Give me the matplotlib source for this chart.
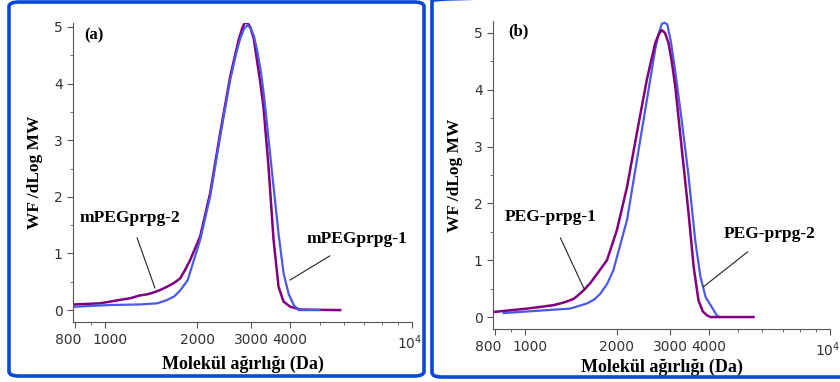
import matplotlib
matplotlib.use('Agg')
import matplotlib.pyplot as plt
import matplotlib.transforms as mtransforms
from matplotlib.patches import FancyBboxPatch

# panel (a)
mw_a2 = [798, 880, 963, 1040, 1119, 1210, 1300, 1380, 1455, 1520, 1589, 1680,
         1757, 1820, 1893, 2042, 2200, 2372, 2557, 2724, 2800, 2863, 2920, 2973,
         3050, 3126, 3200, 3283, 3410, 3541, 3676, 3817, 4011, 4325, 5837]
wf_a2 = [0.10, 0.11, 0.12, 0.15, 0.18, 0.21, 0.26, 0.28, 0.32, 0.36, 0.41, 0.48,
         0.56, 0.70, 0.88, 1.30, 2.06, 3.12, 4.12, 4.77, 4.98, 5.09, 5.06, 5.00,
         4.80, 4.42, 4.05, 3.59, 2.53, 1.24, 0.41, 0.15, 0.06, 0.01, 0.0]
mw_a1 = [798, 1040, 1300, 1480, 1580, 1680, 1760, 1860, 2042, 2200, 2372, 2557,
         2680, 2760, 2840, 2910, 2980, 3060, 3140, 3226, 3310, 3395, 3540, 3676,
         3817, 3963, 4118, 4278, 4999]
wf_a1 = [0.06, 0.09, 0.10, 0.12, 0.17, 0.24, 0.35, 0.53, 1.24, 2.00, 3.06, 4.06,
         4.55, 4.80, 4.97, 5.03, 4.98, 4.83, 4.55, 4.18, 3.70, 3.12, 2.18, 1.35,
         0.65, 0.29, 0.09, 0.0, 0.0]

# panel (b)
mw_b1 = [793, 900, 1020, 1130, 1244, 1350, 1446, 1500, 1559, 1640, 1726, 1859,
         2004, 2163, 2330, 2512, 2675, 2750, 2812, 2880, 2959, 3030, 3112, 3272,
         3442, 3576, 3709, 3830, 3954, 4060, 5614]
wf_b1 = [0.09, 0.12, 0.15, 0.18, 0.21, 0.26, 0.32, 0.39, 0.47, 0.60, 0.76, 1.00,
         1.53, 2.29, 3.24, 4.18, 4.82, 4.98, 5.05, 5.00, 4.82, 4.50, 4.06, 2.94,
         1.82, 0.88, 0.29, 0.10, 0.03, 0.0, 0.0]
mw_b2 = [853, 1098, 1410, 1600, 1690, 1768, 1860, 1950, 2163, 2330, 2512, 2675,
         2750, 2812, 2870, 2930, 3010, 3096, 3255, 3432, 3618, 3763, 3914, 4127,
         4257, 4350]
wf_b2 = [0.07, 0.11, 0.15, 0.24, 0.31, 0.41, 0.58, 0.82, 1.71, 2.76, 3.82, 4.71,
         5.00, 5.16, 5.18, 5.15, 4.85, 4.41, 3.53, 2.53, 1.35, 0.71, 0.35, 0.15,
         0.03, 0.0]

xticks = [800, 1000, 2000, 3000, 4000, 10000]
xlabels = ['800', '1000', '2000', '3000', '4000', '10$^4$']

purple = '#800080'
blue = '#4a5ae6'
serif = 'Liberation Serif'

fig = plt.figure(figsize=(8.4, 3.82), dpi=100)

# blue frames
for x0, y0, w, h in [(9, 6, 415, 374), (432, 5, 420, 381)]:
    box = FancyBboxPatch((x0 / 840, y0 / 382), w / 840, h / 382,
                         boxstyle='round,pad=0,rounding_size=0.012',
                         transform=fig.transFigure, fill=False,
                         edgecolor='#0b48d8', linewidth=2.6, clip_on=False)
    fig.patches.append(box)


def style_axes(ax, ylim, xlabelpad):
    ax.set_xscale('log')
    ax.set_xlim(787, 10000)
    ax.set_ylim(*ylim)
    for s in ['top', 'right']:
        ax.spines[s].set_visible(False)
    for s in ['left', 'bottom']:
        ax.spines[s].set_color('#555555')
    ax.set_xticks(xticks)
    ax.set_xticklabels(xlabels)
    ax.set_xticks([900, 5000, 6000, 7000, 8000, 9000], minor=True)
    ax.set_xticklabels([], minor=True)
    ax.set_yticks([0, 1, 2, 3, 4, 5])
    ax.set_yticks([0.5, 1.5, 2.5, 3.5, 4.5], minor=True)
    ax.tick_params(which='major', length=4, color='#555555', labelsize=10,
                   labelcolor='#333333')
    ax.tick_params(which='minor', length=2.5, color='#555555')
    ax.tick_params(axis='x', pad=4)
    # nudge the crowded 800 / 1000 labels apart
    for lab in ax.get_xticklabels():
        if lab.get_text() == '800':
            dx = -7
        elif lab.get_text() == '1000':
            dx = 5
        elif lab.get_text().startswith('10$'):
            dx = -2
        else:
            dx = 0
        if dx:
            lab.set_transform(lab.get_transform() + mtransforms.ScaledTranslation(
                dx / 100, 0, fig.dpi_scale_trans))
    ax.set_xlabel('Molekül ağırlığı (Da)', fontfamily=serif, fontweight='bold',
                  fontsize=13, labelpad=xlabelpad)
    ax.set_ylabel('WF /dLog MW', fontfamily=serif, fontweight='bold',
                  fontsize=12.5, labelpad=8)


ax1 = fig.add_axes([73 / 840, 60 / 382, 339 / 840, 299 / 382])
ax1.plot(mw_a2, wf_a2, color=purple, lw=1.8)
ax1.plot(mw_a1, wf_a1, color=blue, lw=1.6)
style_axes(ax1, (-0.21, 5.07), 3)
ax1.text(921, 4.86, '(a)', fontfamily=serif, fontweight='bold', fontsize=12,
         ha='center', va='center')
ax1.annotate('mPEGprpg-2', xy=(1455, 0.39), xytext=(1206, 1.63),
             fontfamily=serif, fontweight='bold', fontsize=12.5,
             ha='center', va='center',
             arrowprops=dict(arrowstyle='-', color='#222222', lw=0.8,
                             shrinkA=7, shrinkB=0))
ax1.annotate('mPEGprpg-1', xy=(4004, 0.53), xytext=(6626, 1.25),
             fontfamily=serif, fontweight='bold', fontsize=12.5,
             ha='center', va='center',
             arrowprops=dict(arrowstyle='-', color='#222222', lw=0.8,
                             shrinkA=8, shrinkB=0))

ax2 = fig.add_axes([493 / 840, 53 / 382, 337 / 840, 308 / 382])
ax2.plot(mw_b2, wf_b2, color=blue, lw=1.6)
ax2.plot(mw_b1, wf_b1, color=purple, lw=1.8)
style_axes(ax2, (-0.21, 5.21), 0)
ax2.text(956, 5.02, '(b)', fontfamily=serif, fontweight='bold', fontsize=12,
         ha='center', va='center')
ax2.annotate('PEG-prpg-1', xy=(1570, 0.48), xytext=(1216, 1.76),
             fontfamily=serif, fontweight='bold', fontsize=12.5,
             ha='center', va='center',
             arrowprops=dict(arrowstyle='-', color='#222222', lw=0.8,
                             shrinkA=8, shrinkB=0))
ax2.annotate('PEG-prpg-2', xy=(3844, 0.53), xytext=(6363, 1.46),
             fontfamily=serif, fontweight='bold', fontsize=12.5,
             ha='center', va='center',
             arrowprops=dict(arrowstyle='-', color='#222222', lw=0.8,
                             shrinkA=8, shrinkB=0))

fig.savefig('out.png', dpi=100)
